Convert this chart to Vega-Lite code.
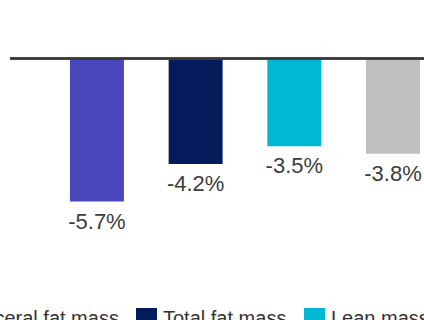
{
  "$schema": "https://vega.github.io/schema/vega-lite/v6.json",
  "autosize": "none",
  "width": 414,
  "height": 320,
  "padding": {"left": 10, "top": 0, "right": 0, "bottom": 0},
  "background": "white",
  "config": {"view": {"stroke": null}, "font": "Liberation Sans"},
  "data": {"values": [
    {"measure": "Visceral fat mass", "value": -5.7, "label": "-5.7%"},
    {"measure": "Total fat mass", "value": -4.2, "label": "-4.2%"},
    {"measure": "Lean mass", "value": -3.5, "label": "-3.5%"},
    {"measure": "Body weight", "value": -3.8, "label": "-3.8%"}
  ]},
  "encoding": {
    "x": {"field": "measure", "type": "nominal", "sort": null, "axis": null,
      "scale": {"paddingInner": 0.453, "paddingOuter": 0.324, "align": 0.9375}}
  },
  "layer": [
    {
      "mark": {"type": "bar"},
      "encoding": {
        "y": {"field": "value", "type": "quantitative", "axis": null,
          "scale": {"domain": [-10.42, 2.33], "nice": false, "zero": false}},
        "color": {"field": "measure", "type": "nominal", "sort": null,
          "scale": {"domain": ["Visceral fat mass", "Total fat mass", "Lean mass", "Body weight"],
            "range": ["#4a46bb", "#051c5c", "#00b8d4", "#bfbfbf"]},
          "legend": {"orient": "none", "direction": "horizontal", "legendX": -70, "legendY": 308,
            "title": null, "symbolType": "square", "symbolSize": 441, "symbolStrokeWidth": 0,
            "labelFontSize": 20, "labelColor": "#333333", "labelOffset": 6, "columnPadding": 17,
            "labelFont": "Liberation Sans", "labelLimit": 300}}
      }
    },
    {
      "mark": {"type": "rule", "color": "#3a3a3a", "strokeWidth": 2},
      "encoding": {"y": {"datum": 0, "type": "quantitative"}, "x": {"value": 0}, "x2": {"value": 414}}
    },
    {
      "mark": {"type": "text", "baseline": "top", "dy": 10, "fontSize": 22, "color": "#3c3c3c", "font": "Liberation Sans"},
      "encoding": {
        "y": {"field": "value", "type": "quantitative"},
        "text": {"field": "label", "type": "nominal"}
      }
    }
  ]
}
